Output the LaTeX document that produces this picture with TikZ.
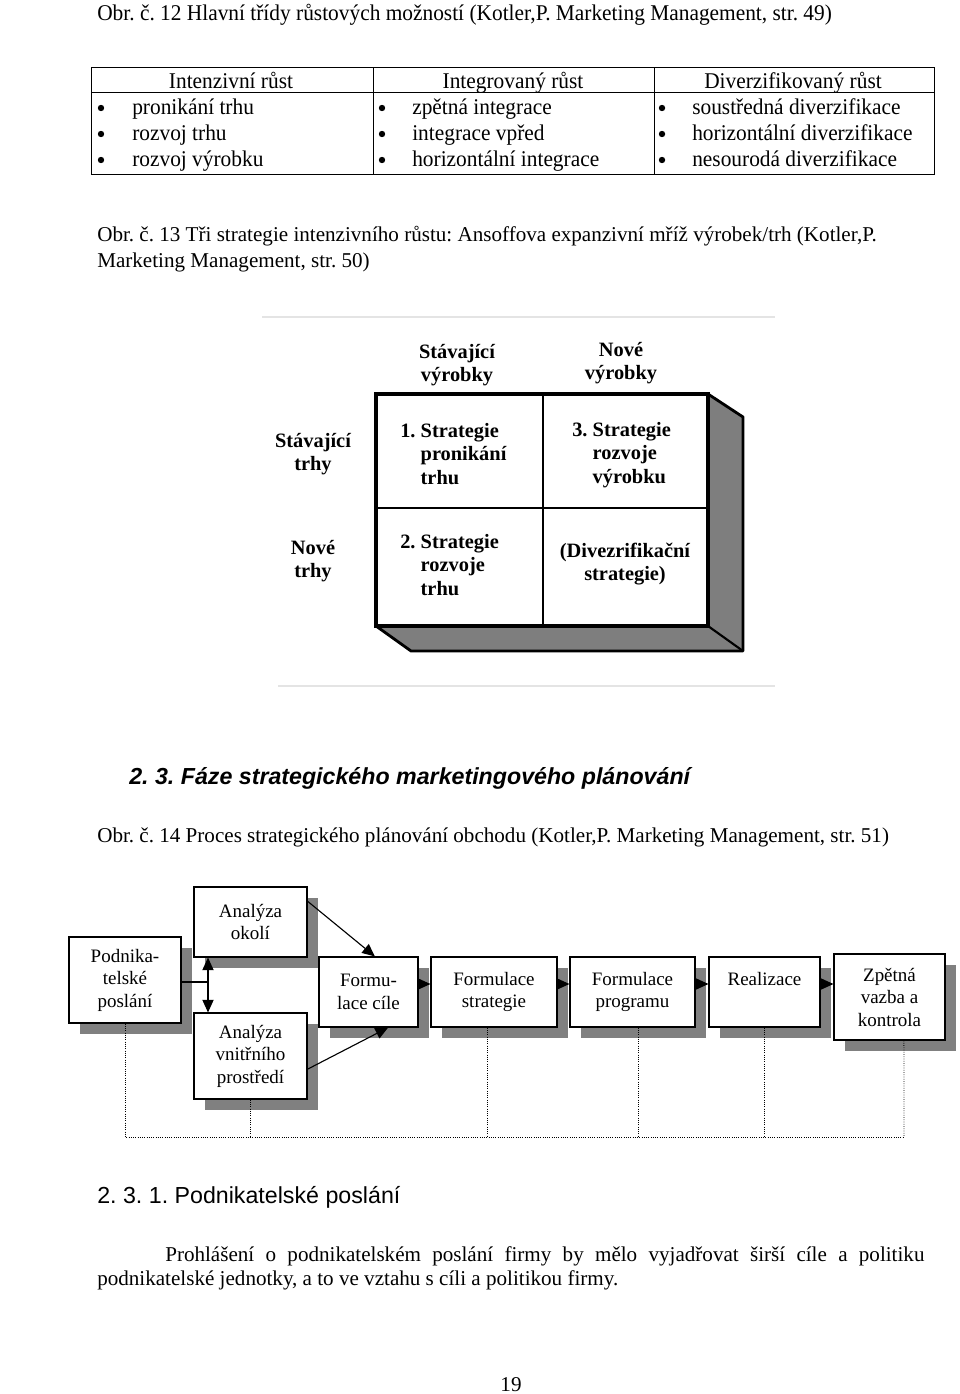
\documentclass[tikz,border=0pt]{standalone}
\usepackage{fontspec}
\setmainfont{Liberation Serif}
\newfontfamily\arialf{Liberation Sans}
\newfontfamily\narrowf[FakeStretch=0.95]{Liberation Serif}
\usetikzlibrary{arrows.meta,positioning,shadows}
\definecolor{shadowgray}{HTML}{808080}
\definecolor{framegray}{HTML}{E4E4E4}
\definecolor{sidegray}{HTML}{7E7E7E}
\frenchspacing
\tikzset{
  pagetext/.style={
    anchor=base west, inner sep=0pt,
    font=\fontsize{15}{17}\selectfont
  },
  tabletext/.style={
    inner sep=0pt, font=\narrowf\fontsize{16}{18}\selectfont
  },
  bulletdot/.style={
    circle, fill, inner sep=0pt, minimum size=0.16cm
  },
  matrixlabel/.style={
    inner sep=0pt, align=center,
    font=\bfseries\fontsize{14.5}{16.5}\selectfont
  },
  celltext/.style={
    anchor=west, inner sep=0pt, align=left,
    font=\bfseries\fontsize{14.5}{16.5}\selectfont
  },
  procbox/.style n args={2}{
    rectangle, draw, thick, fill=white,
    minimum width=#1*0.025cm, minimum height=#2*0.025cm,
    inner sep=0pt, align=center,
    font=\fontsize{13.5}{16}\selectfont,
    drop shadow={shadow xshift=0.28cm, shadow yshift=-0.28cm,
                 fill=shadowgray, opacity=1}
  },
  flowarrow/.style={
    -{Triangle[length=9pt,width=8pt]}, thick
  },
  feedback/.style={
    densely dotted, semithick
  },
}

\begin{document}
\begin{tikzpicture}[x=0.025cm, y=-0.025cm]
  \useasboundingbox (0,0) rectangle (960,1394);

  % Obr. 12 -- table
  \node[tabletext, anchor=base west] (cap12) at (97,20)
    {Obr. č. 12 Hlavní třídy růstových možností (Kotler,P. Marketing Management, str. 49)};
  \draw (91,67) rectangle (934,174);
  \draw (91,92) -- (934,92);
  \draw (373,67) -- (373,174);
  \draw (654,67) -- (654,174);
  \node[tabletext, anchor=base] (h1) at (231,88) {Intenzivní růst};
  \node[tabletext, anchor=base] (h2) at (513,88) {Integrovaný růst};
  \node[tabletext, anchor=base] (h3) at (793,88) {Diverzifikovaný růst};
  \foreach \y in {108,134,160} {
    \node[bulletdot] at (101,\y) {};
    \node[bulletdot] at (382,\y) {};
    \node[bulletdot] at (662,\y) {};
  }
  \node[tabletext, anchor=base west] (r11) at (132,114) {pronikání trhu};
  \node[tabletext, anchor=base west] (r12) at (132,140) {rozvoj trhu};
  \node[tabletext, anchor=base west] (r13) at (132,166) {rozvoj výrobku};
  \node[tabletext, anchor=base west] (r21) at (412,114) {zpětná integrace};
  \node[tabletext, anchor=base west] (r22) at (412,140) {integrace vpřed};
  \node[tabletext, anchor=base west] (r23) at (412,166) {horizontální integrace};
  \node[tabletext, anchor=base west] (r31) at (692,114) {soustředná diverzifikace};
  \node[tabletext, anchor=base west] (r32) at (692,140) {horizontální diverzifikace};
  \node[tabletext, anchor=base west] (r33) at (692,166) {nesourodá diverzifikace};

  % Obr. 13 -- Ansoffova mriz
  \node[pagetext] (cap13a) at (97,241)
    {Obr. č. 13 Tři strategie intenzivního růstu: Ansoffova expanzivní mříž výrobek/trh (Kotler,P.};
  \node[pagetext] (cap13b) at (97,267) {Marketing Management, str. 50)};
  \draw[framegray, thick] (262,317) -- (775,317);
  \draw[framegray, thick] (278,686) -- (775,686);
  \filldraw[fill=sidegray, line width=2pt, line join=round]
    (708,394) -- (743,417) -- (743,651) -- (411,651) -- (376,626) -- (708,626) -- cycle;
  \draw[line width=1.5pt] (708,626) -- (743,651);
  \draw[line width=3pt] (376,394) rectangle (708,626);
  \draw[line width=1.5pt] (543,394) -- (543,626);
  \draw[line width=1.5pt] (376,508) -- (708,508);
  \node[matrixlabel] (stvyr) at (457,365) {Stávající\\výrobky};
  \node[matrixlabel] (novvyr) at (621,363) {Nové\\výrobky};
  \node[matrixlabel] (sttrh) at (313,454) {Stávající\\trhy};
  \node[matrixlabel] (novtrh) at (313,561) {Nové\\trhy};
  \node[celltext] (c1) at (400,454)
    {1. Strategie\\\hphantom{1. }pronikání\\\hphantom{1. }trhu};
  \node[celltext] (c3) at (572,455)
    {3. Strategie\\\hphantom{3. }rozvoje\\\hphantom{3. }výrobku};
  \node[celltext] (c2) at (400,565)
    {2. Strategie\\\hphantom{2. }rozvoje\\\hphantom{2. }trhu};
  \node[matrixlabel] (c4) at (625,564) {(Divezrifikační\\strategie)};

  % 2.3 heading and Obr. 14
  \node[anchor=base west, inner sep=0pt,
        font=\arialf\bfseries\itshape\fontsize{16.5}{19}\selectfont] (sec23)
    at (129,784) {2. 3. Fáze strategického marketingového plánování};
  \node[pagetext] (cap14) at (97,842)
    {Obr. č. 14 Proces strategického plánování obchodu (Kotler,P. Marketing Management, str. 51)};

  % Process boxes
  \node[procbox={112}{86}] (poslani) at (125,980) {Podnika-\\telské\\poslání};
  \node[procbox={113}{70}] (okoli) at (250.5,922) {Analýza\\okolí};
  \node[procbox={113}{86}] (vnitrni) at (250.5,1056) {Analýza\\vnitřního\\prostředí};
  \node[procbox={99}{70}] (cile) at (368.5,992) {Formu-\\lace cíle};
  \node[procbox={126}{70}] (strat) at (494,992) {Formulace\\strategie};
  \node[procbox={125}{70}] (progr) at (632.5,992) {Formulace\\programu};
  \node[procbox={111}{70}] (real) at (764.5,992) {Realizace\\[2pt]~};
  \node[procbox={111}{86}] (zpet) at (889.5,997) {Zpětná\\vazba a\\kontrola};

  % Arrows
  \coordinate (split) at (208,982);
  \draw[thick] (poslani.east |- split) -- (split);
  \draw[thick, {Triangle[length=9pt,width=8pt]}-{Triangle[length=9pt,width=8pt]}]
    (split |- okoli.south) -- (split |- vnitrni.north);
  \draw[flowarrow] (okoli.20) -- ([xshift=0.16cm]cile.north);
  \draw[flowarrow] (vnitrni.-13) -- ([xshift=0.49cm]cile.south);
  \draw[flowarrow] ([yshift=0.2cm]cile.east) -- ([yshift=0.2cm]strat.west);
  \draw[flowarrow] ([yshift=0.2cm]strat.east) -- ([yshift=0.2cm]progr.west);
  \draw[flowarrow] ([yshift=0.2cm]progr.east) -- ([yshift=0.2cm]real.west);
  \draw[flowarrow] ([yshift=0.2cm]real.east) -- ([yshift=0.2cm]zpet.west |- real.east);

  % Feedback (dotted)
  \coordinate (fb) at (125,1137);
  \coordinate (fbend) at (904,1137);
  \draw[feedback] (poslani.south) -- (fb) -- (fbend);
  \draw[feedback] (vnitrni.south) -- (vnitrni.south |- fb);
  \draw[feedback] ([xshift=-0.175cm]strat.south) -- ([xshift=-0.175cm]strat.south |- fb);
  \draw[feedback] ([xshift=0.16cm]progr.south) -- ([xshift=0.16cm]progr.south |- fb);
  \draw[feedback] (real.south) -- (real.south |- fb);
  \draw[feedback] ([xshift=0.36cm]zpet.south) -- (fbend);

  % 2.3.1
  \node[anchor=base west, inner sep=0pt,
        font=\arialf\fontsize{16.5}{19}\selectfont] (sec231)
    at (97,1203) {2. 3. 1. Podnikatelské poslání};
  \node[pagetext] (par1) at (165,1261)
    {\makebox[18.975cm][s]{Prohlášení o podnikatelském poslání firmy by mělo vyjadřovat širší cíle a politiku}};
  \node[pagetext] (par2) at (97,1285)
    {podnikatelské jednotky, a to ve vztahu s cíli a politikou firmy.};
  \node[pagetext, anchor=base] (pagenum) at (511,1391) {19};
\end{tikzpicture}
\end{document}
